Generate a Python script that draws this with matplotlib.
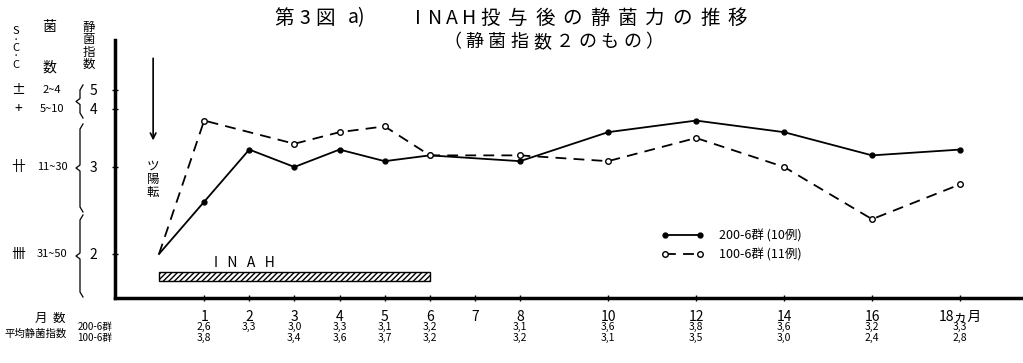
import numpy as np
import matplotlib
matplotlib.use("Agg")
import matplotlib.pyplot as plt
from matplotlib.lines import Line2D

plt.rcParams['font.family'] = ['Noto Sans CJK JP', 'DejaVu Sans']

# === data ===
months_a = [0, 1, 2, 3, 4, 5, 6, 8, 10, 12, 14, 16, 18]
index_a = [2.0, 2.6, 3.3, 3.0, 3.3, 3.1, 3.2, 3.1, 3.6, 3.8, 3.6, 3.2, 3.3]   # 200-6群 (10例)
months_b = [0, 1, 3, 4, 5, 6, 8, 10, 12, 14, 16, 18]
index_b = [2.0, 3.8, 3.4, 3.6, 3.7, 3.2, 3.2, 3.1, 3.5, 3.0, 2.4, 2.8]        # 100-6群 (11例)

table_months = [1, 2, 3, 4, 5, 6, 8, 10, 12, 14, 16, 18]
table_a = ["2,6", "3,3", "3,0", "3,3", "3,1", "3,2", "3,1", "3,6", "3,8", "3,6", "3,2", "3,3"]
table_b = ["3,8", "", "3,4", "3,6", "3,7", "3,2", "3,2", "3,1", "3,5", "3,0", "2,4", "2,8"]

x_ticks = [1, 2, 3, 4, 5, 6, 7, 8, 10, 12, 14, 16, 18]
x_labels = ["1", "2", "3", "4", "5", "6", "7", "8", "10", "12", "14", "16", "18ヵ月"]
y_ticks = [2, 3, 4, 5]
scc_marks = ["卌", "卄", "+", "±"]
colony_ranges = ["31~50", "11~30", "5~10", "2~4"]

inah_start, inah_end = 0, 6

# === scales (the original axes are not linear) ===
xk_val = [-5, 0, 8, 18, 25]
xk_pos = [-225.5, 0, 361, 801, 1109]
yk_val = [0, 2, 3, 4, 5, 10]
yk_pos = [-174, 0, 87, 145, 164, 259]

def fx(v): return np.interp(v, xk_val, xk_pos)
def fx_inv(p): return np.interp(p, xk_pos, xk_val)
def fy(v): return np.interp(v, yk_val, yk_pos)
def fy_inv(p): return np.interp(p, yk_pos, yk_val)

W, H = 1023, 363
fig = plt.figure(figsize=(W / 100, H / 100), dpi=100)
ax = fig.add_axes([115 / W, (H - 298) / H, (W - 115) / W, (298 - 40) / H])
ax.set_xscale('function', functions=(fx, fx_inv))
ax.set_yscale('function', functions=(fy, fy_inv))
ax.set_xlim(-0.976, 19.43)
ax.set_ylim(1.494, 7.63)

# === lines ===
ax.plot(months_a, index_a, color='black', lw=1.3, marker='o', ms=3.5,
        markevery=slice(1, None), label="200-6群 (10例)")
ax.plot(months_b, index_b, color='black', lw=1.3, ls=(0, (6, 4)), marker='o', ms=4,
        mfc='white', mec='black', markevery=slice(1, None), label="100-6群 (11例)")

# INAH bar
ax.barh(1.742, inah_end - inah_start, left=inah_start, height=0.1, color='white',
        edgecolor='black', hatch='//////', lw=1)
ax.text(1.9, 1.9, "I   N   A   H", fontsize=10, ha='center', va='center')

# arrow + ツ陽転
ax.annotate("", xy=(0.042, 0.60), xytext=(0.042, 0.94), xycoords='axes fraction',
            arrowprops=dict(arrowstyle='->', color='black', lw=1.2))
ax.text(0.042, 0.46, "ツ\n陽\n転", transform=ax.transAxes, fontsize=9,
        ha='center', va='center', linespacing=1.0)

# axes style
for s in ['top', 'right']:
    ax.spines[s].set_visible(False)
ax.spines['left'].set_linewidth(2.5)
ax.spines['bottom'].set_linewidth(2.5)
ax.set_xticks(x_ticks)
ax.set_xticklabels(x_labels, fontsize=10)
ax.xaxis.set_minor_locator(matplotlib.ticker.NullLocator())
ax.yaxis.set_minor_locator(matplotlib.ticker.NullLocator())
ax.set_yticks(y_ticks)
ax.set_yticklabels([str(t) for t in y_ticks], fontsize=10)
ax.tick_params(axis='x', direction='inout', length=5, width=1, pad=6)
ax.tick_params(axis='y', direction='inout', length=5, width=1, pad=10)

# table under the axis
for m, a, b in zip(table_months, table_a, table_b):
    ax.text(m, -0.112, a, transform=ax.get_xaxis_transform(), fontsize=7.5,
            ha='center', va='center')
    ax.text(m, -0.155, b, transform=ax.get_xaxis_transform(), fontsize=7.5,
            ha='center', va='center')

def ftext(x, y, s, **kw):
    fig.text(x / W, 1 - y / H, s, **kw)

ftext(50, 318, "月  数", fontsize=9, ha='center', va='center')
ftext(36, 334, "平均静菌指数", fontsize=7.5, ha='center', va='center')
ftext(95, 327, "200-6群", fontsize=7, ha='center', va='center')
ftext(95, 338, "100-6群", fontsize=7, ha='center', va='center')

# left header columns
ftext(16, 48, "S\n·\nC\n·\nC", fontsize=8, ha='center', va='center', linespacing=0.8)
ftext(49, 27, "菌", fontsize=10, ha='center', va='center')
ftext(49, 68, "数", fontsize=10, ha='center', va='center')
ftext(89, 46, "静\n菌\n指\n数", fontsize=9, ha='center', va='center', linespacing=0.95)

# S.C.C marks and colony count ranges, placed on the index rows
for v, mk, rng in zip(y_ticks, scc_marks, colony_ranges):
    yf = ax.transData.transform((0, v))[1] / H
    fig.text(18 / W, yf, mk, fontsize=10, ha='center', va='center')
    fig.text(52 / W, yf, rng, fontsize=8, ha='center', va='center')

def brace(x, y0, y1):
    ym = (y0 + y1) / 2
    xs = [x + 3, x, x, x - 4, x, x, x + 3]
    ys = [y0, y0 + 5, ym - 3, ym, ym + 3, y1 - 5, y1]
    fig.add_artist(Line2D(np.array(xs) / W, 1 - np.array(ys) / H,
                          transform=fig.transFigure, color='black', lw=0.9))

brace(80, 85, 118)
brace(80, 124, 212)
brace(80, 215, 297)

# legend
ax.legend(loc='upper left', bbox_to_anchor=(650 / W, 1 - 218 / H),
          bbox_transform=fig.transFigure, frameon=False,
          handlelength=3.4, handletextpad=1.2, numpoints=2, labelspacing=0.5,
          prop={'size': 9})

# title (wide letter spacing like the printed original)
def spaced(x0, y, s, pitch, size):
    for i, ch in enumerate(s):
        ftext(x0 + i * pitch, y, ch, fontsize=size, ha='center', va='center')

ftext(284, 18, "第", fontsize=14, ha='center', va='center')
ftext(305, 18, "3", fontsize=14, ha='center', va='center')
ftext(325, 18, "図", fontsize=14, ha='center', va='center')
ftext(357, 18, "a)", fontsize=14, ha='center', va='center')
spaced(418, 18, "INAH", 17, 14)
spaced(490, 18, "投与後の静菌力の推移", 27.5, 14)
spaced(452, 42, "（静菌指数２のもの）", 22.5, 13)

fig.savefig("out.png", dpi=100)
